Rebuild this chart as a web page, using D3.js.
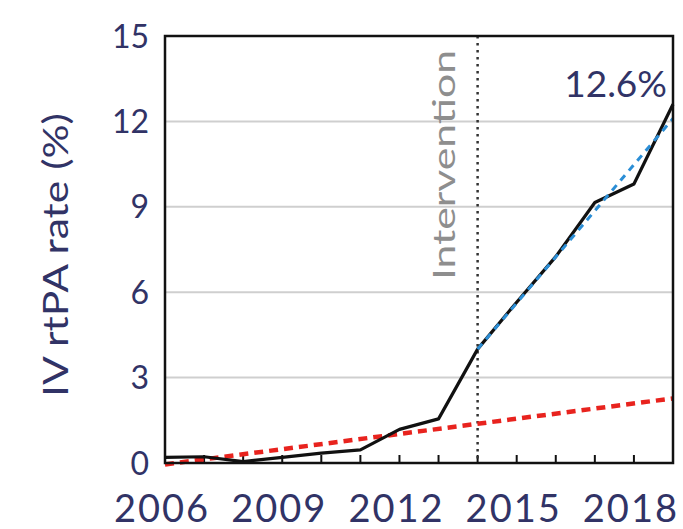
<!DOCTYPE html>
<html>
<head>
<meta charset="utf-8">
<script src="https://cdn.jsdelivr.net/npm/d3@7"></script>
<style>
  html, body { margin: 0; padding: 0; background: #ffffff; }
  svg { display: block; }
  text { font-family: Lato, "Open Sans", sans-serif; }
</style>
</head>
<body>
<svg id="chart" width="683" height="529"></svg>
<script>
// IV rtPA treatment rate by year
const years = [2006, 2007, 2008, 2009, 2010, 2011, 2012, 2013, 2014, 2015, 2016, 2017, 2018, 2019];
const rates = [0.2, 0.22, 0.05, 0.2, 0.35, 0.46, 1.18, 1.55, 4.0, 5.65, 7.25, 9.15, 9.8, 12.6];

// Fitted trends: pre-intervention extrapolation and post-intervention fit
const preTrendYears = [2006, 2019];
const preTrendRates = [-0.05, 2.27];
const postTrendYears = [2014, 2019];
const postTrendRates = [4.0, 12.1];

const interventionYear = 2014;
const xTickYears = [2006, 2009, 2012, 2015, 2018];
const xMinorYears = [2007, 2008, 2009, 2010, 2011, 2012, 2013, 2014, 2015, 2016, 2017, 2018];
const yTicks = [0, 3, 6, 9, 12, 15];
const yGrid = [3, 6, 9, 12];

const W = 683, H = 529;
const margin = { top: 36, right: 10, bottom: 66, left: 165 };
const innerW = W - margin.left - margin.right;
const innerH = H - margin.top - margin.bottom;
const navy = "#313366";

const svg = d3.select("#chart");
const g = svg.append("g").attr("transform", `translate(${margin.left},${margin.top})`);

const x = d3.scaleLinear().domain([2006, 2019]).range([0, innerW]);
const y = d3.scaleLinear().domain([0, 15]).range([innerH, 0]);

// horizontal gridlines
g.selectAll(".grid").data(yGrid).join("line")
  .attr("x1", 0).attr("x2", innerW)
  .attr("y1", d => y(d)).attr("y2", d => y(d))
  .attr("stroke", "#cfcfcf").attr("stroke-width", 2);

// inward year ticks along the bottom
g.selectAll(".minor").data(xMinorYears).join("line")
  .attr("x1", d => x(d)).attr("x2", d => x(d))
  .attr("y1", innerH).attr("y2", innerH - 8)
  .attr("stroke", "#111").attr("stroke-width", 2);

// intervention marker
g.append("line")
  .attr("x1", x(interventionYear)).attr("x2", x(interventionYear))
  .attr("y1", 0).attr("y2", innerH)
  .attr("stroke", "#333").attr("stroke-width", 2.5)
  .attr("stroke-dasharray", "2.5,4.5");

g.append("text")
  .attr("transform", `translate(${x(interventionYear) - 23},${y(0) - 183}) rotate(-90)`)
  .attr("fill", "#8e8e8e")
  .attr("font-size", 31)
  .attr("textLength", 230)
  .attr("lengthAdjust", "spacingAndGlyphs")
  .text("Intervention");

const line = d3.line().x(d => x(d[0])).y(d => y(d[1]));

// pre-intervention trend (red)
g.append("path")
  .datum(d3.zip(preTrendYears, preTrendRates))
  .attr("d", line)
  .attr("fill", "none").attr("stroke", "#e8231e")
  .attr("stroke-width", 4.5).attr("stroke-dasharray", "9,6");

// observed rate (black)
g.append("path")
  .datum(d3.zip(years, rates))
  .attr("d", line)
  .attr("fill", "none").attr("stroke", "#111")
  .attr("stroke-width", 3.2).attr("stroke-linejoin", "round");

// post-intervention trend (blue)
g.append("path")
  .datum(d3.zip(postTrendYears, postTrendRates))
  .attr("d", line)
  .attr("fill", "none").attr("stroke", "#2b8ed6")
  .attr("stroke-width", 3).attr("stroke-dasharray", "7,6");

// frame
g.append("rect")
  .attr("x", 0).attr("y", 0).attr("width", innerW).attr("height", innerH)
  .attr("fill", "none").attr("stroke", "#111").attr("stroke-width", 2.5);

// final value label
g.append("text")
  .attr("x", innerW - 6).attr("y", y(rates[rates.length - 1]) - 7)
  .attr("text-anchor", "end")
  .attr("fill", navy).attr("font-size", 37)
  .text(rates[rates.length - 1].toFixed(1) + "%");

// y tick labels
g.selectAll(".ylab").data(yTicks).join("text")
  .attr("x", -16).attr("y", d => y(d)).attr("dy", "0.36em")
  .attr("text-anchor", "end")
  .attr("fill", navy).attr("font-size", 32)
  .text(d => d);

// x tick labels
g.selectAll(".xlab").data(xTickYears).join("text")
  .attr("x", d => x(d) - 3).attr("y", innerH + 59)
  .attr("text-anchor", "middle")
  .attr("fill", navy).attr("font-size", 38)
  .attr("letter-spacing", 2)
  .text(d => d);

// y axis title
svg.append("text")
  .attr("transform", `translate(68,${margin.top + 219}) rotate(-90)`)
  .attr("text-anchor", "middle")
  .attr("fill", navy).attr("font-size", 35)
  .attr("textLength", 284)
  .attr("lengthAdjust", "spacingAndGlyphs")
  .text("IV rtPA rate (%)");
</script>
</body>
</html>
